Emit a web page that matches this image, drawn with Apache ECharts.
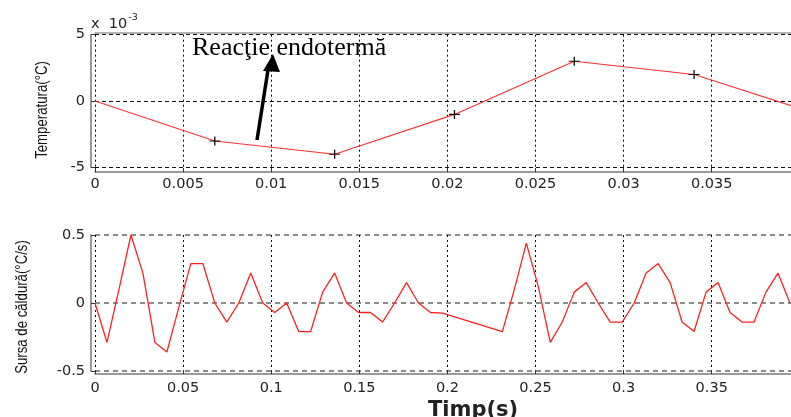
<!DOCTYPE html>
<html><head><meta charset="utf-8">
<script src="https://cdn.jsdelivr.net/npm/echarts@6/dist/echarts.min.js"></script>
<style>html,body{margin:0;padding:0;background:#fff}#c{width:791px;height:417px}</style>
</head><body><div id="c"></div>
<script>
// ---- Data (top: temperature x 1e-3 °C; bottom: heat source °C/s) ----
const tempTime = [0, 0.0068, 0.0136, 0.0204, 0.0272, 0.034, 0.0408];
const tempValue = [0, -3, -4, -1, 3, 2, -0.9];
const tempTicksX = [0, 0.005, 0.01, 0.015, 0.02, 0.025, 0.03, 0.035];
const tempTicksY = [-5, 0, 5];

const srcTime = [0,0.0068,0.0136,0.0204,0.0272,0.034,0.0408,0.0476,0.0544,0.0612,0.068,0.0748,0.0816,0.0884,0.0952,0.102,0.1088,0.1156,0.1224,0.1292,0.136,0.1428,0.1496,0.1564,0.1632,0.17,0.1768,0.1836,0.1904,0.1972,0.2312,0.238,0.2448,0.2516,0.2584,0.2652,0.272,0.2788,0.2856,0.2924,0.2992,0.306,0.3128,0.3196,0.3264,0.3332,0.34,0.3468,0.3536,0.3604,0.3672,0.374,0.3808,0.3876,0.3944];
const srcValue = [0,-0.29,0.1,0.5,0.22,-0.29,-0.36,-0.03,0.29,0.29,0,-0.14,0,0.22,0,-0.07,0,-0.21,-0.21,0.08,0.22,0,-0.07,-0.07,-0.14,0,0.15,0,-0.07,-0.075,-0.21,0.1,0.44,0.12,-0.29,-0.14,0.08,0.15,0,-0.14,-0.14,0,0.22,0.29,0.15,-0.14,-0.21,0.08,0.15,-0.07,-0.14,-0.14,0.08,0.22,0];
const srcTicksY = [-0.5, 0, 0.5];

const yNameTop = 'Temperatura(°C)';
const yNameBottom = 'Sursa de căldură(°C/s)';
const xNameBottom = 'Timp(s)';
const annotation = 'Reacţie endotermă';
// -----------------------------------------------------------------------

const chart = echarts.init(document.getElementById('c'), null, {renderer: 'canvas'});
const tickFont = {fontFamily: 'DejaVu Sans', fontSize: 14.5, color: '#222'};
const plus = 'path://M0,4.4H10V5.6H0Z M4.4,0H5.6V10H4.4Z';

const markerIdx = [1, 2, 3, 4, 5];
const topData = tempTime.map((t, i) => ({
  value: [t, tempValue[i]],
  symbol: markerIdx.includes(i) ? plus : 'none'
}));

function xAxisBase(extra) {
  return Object.assign({
    type: 'value',
    axisLine: {show: true, onZero: false, lineStyle: {color: '#777', width: 1.5}},
    axisTick: {show: true, inside: true, length: 4, lineStyle: {color: '#333'}},
    axisLabel: Object.assign({showMaxLabel: false, margin: 5}, tickFont),
    splitLine: {show: true, lineStyle: {type: [2, 3], color: '#000', width: 1}}
  }, extra);
}

chart.setOption({
  animation: false,
  backgroundColor: '#fff',
  grid: [
    {left: 95, right: 0, top: 34.7, height: 132.8},
    {left: 95, right: 0, top: 235, height: 136}
  ],
  xAxis: [
    xAxisBase({gridIndex: 0, min: tempTicksX[0], max: 0.0395, interval: tempTicksX[1] - tempTicksX[0], offset: 4.5}),
    xAxisBase({gridIndex: 1, min: 0, max: 0.395, interval: 0.05, offset: 3, axisLabel: Object.assign({showMaxLabel: false, margin: 7}, tickFont)}),
    {type: 'value', gridIndex: 0, position: 'top', min: 0, max: 0.0395, offset: 1.7,
     axisLine: {show: true, onZero: false, lineStyle: {color: '#999', width: 1.5}}, axisTick: {show: false},
     axisLabel: {show: false}, splitLine: {show: false}}
  ],
  yAxis: [
    {type: 'value', gridIndex: 0, min: tempTicksY[0], max: tempTicksY[2], interval: 5, offset: 4,
     axisLine: {show: true, onZero: false, lineStyle: {color: '#777', width: 1.5}},
     axisTick: {show: true, inside: true, length: 4, lineStyle: {color: '#333'}},
     axisLabel: Object.assign({margin: 6}, tickFont),
     splitLine: {show: true, lineStyle: {type: [4, 3], color: '#111', width: 1}}},
    {type: 'value', gridIndex: 1, min: srcTicksY[0], max: srcTicksY[2], interval: 0.5, offset: 4,
     axisLine: {show: true, onZero: false, lineStyle: {color: '#777', width: 1.5}},
     axisTick: {show: true, inside: true, length: 4, lineStyle: {color: '#333'}},
     axisLabel: Object.assign({margin: 6}, tickFont),
     splitLine: {show: true, lineStyle: {type: [5, 4], color: '#666', width: 1.6}}}
  ],
  series: [
    {type: 'line', xAxisIndex: 0, yAxisIndex: 0, data: topData, showSymbol: true,
     symbolSize: [11, 9], itemStyle: {color: '#111'},
     lineStyle: {color: '#ff3030', width: 1.1}, clip: true, z: 5},
    {type: 'line', xAxisIndex: 1, yAxisIndex: 1, data: srcTime.map((t, i) => [t, srcValue[i]]),
     showSymbol: false, lineStyle: {color: '#ff2020', width: 1.3}, clip: true, z: 5}
  ],
  graphic: [
    {type: 'text', x: 91, y: 11, style: {
      text: '{a|x  10}{b|-3}',
      rich: {a: {fontFamily: 'DejaVu Sans', fontSize: 14.5, fill: '#222', padding: [6, 0, 0, 0]},
             b: {fontFamily: 'DejaVu Sans', fontSize: 9.5, fill: '#222', padding: [0, 0, 8, 1]}}
    }},
    {type: 'text', x: 192, y: 48.5, z: 10, style: {
      text: annotation, fontFamily: "'Liberation Serif', serif", fontSize: 26, fill: '#000',
      verticalAlign: 'middle'
    }},
    {type: 'polyline', z: 10, shape: {points: [[257, 140], [268, 70]]},
     style: {stroke: '#000', lineWidth: 3.5}},
    {type: 'polygon', z: 10, shape: {points: [[273, 54], [263, 71], [280, 72]]},
     style: {fill: '#000'}},
    {type: 'text', x: 42, y: 110, rotation: Math.PI / 2, scaleX: 0.8, style: {
      text: yNameTop, fontFamily: 'Liberation Sans', fontSize: 16.5, fill: '#111',
      align: 'center', verticalAlign: 'middle'
    }},
    {type: 'text', x: 22, y: 307, rotation: Math.PI / 2, scaleX: 0.8, style: {
      text: yNameBottom, fontFamily: 'Liberation Sans', fontSize: 16.5, fill: '#111',
      align: 'center', verticalAlign: 'middle'
    }},
    {type: 'text', x: 428, y: 400, style: {
      text: xNameBottom, fontFamily: 'DejaVu Sans', fontSize: 21, fontWeight: 'bold', fill: '#222'
    }}
  ]
});
</script></body></html>
